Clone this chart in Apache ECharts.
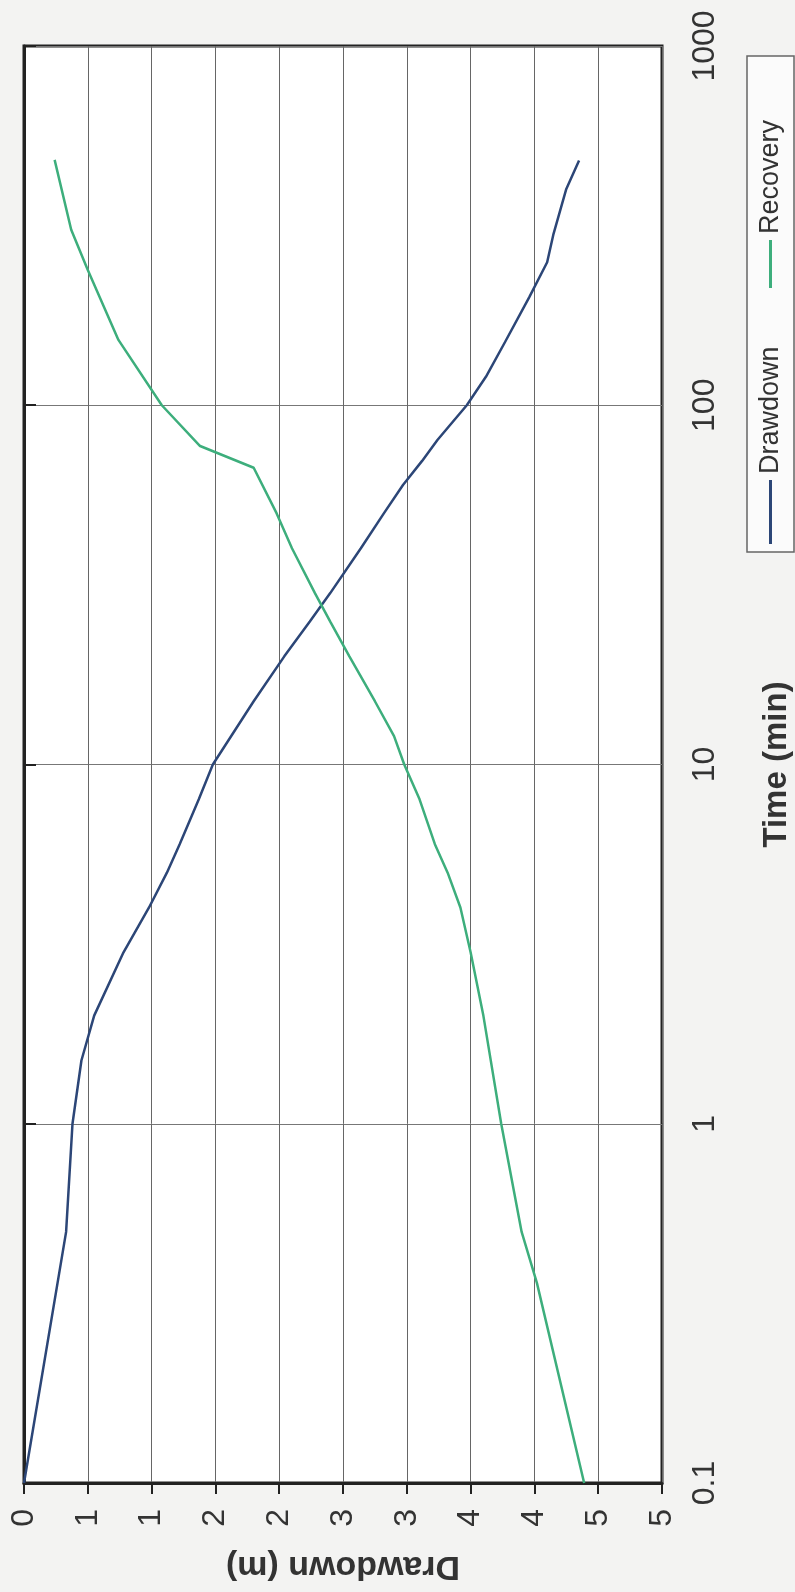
<!DOCTYPE html>
<html>
<head>
<meta charset="utf-8">
<script src="https://cdn.jsdelivr.net/npm/echarts@6/dist/echarts.min.js"></script>
<style>
  html, body { margin: 0; padding: 0; background: #f3f3f2; }
  #chart { width: 795px; height: 1592px; }
</style>
</head>
<body>
<div id="chart"></div>
<script>
// values: time in minutes, drawdown in metres
const seriesNames = ["Drawdown", "Recovery"];
const drawdownTime = [0.1, 0.5, 1, 1.5, 2, 3, 4, 5, 6, 7, 8, 10, 15, 20, 25, 30, 40, 50, 60, 70, 80, 100, 120, 150, 200, 250, 300, 400, 480];
const drawdownLevel = [0, 0.33, 0.38, 0.45, 0.55, 0.78, 0.98, 1.12, 1.22, 1.3, 1.37, 1.48, 1.8, 2.04, 2.24, 2.4, 2.64, 2.82, 2.97, 3.12, 3.24, 3.47, 3.62, 3.77, 3.96, 4.1, 4.15, 4.25, 4.35];
const recoveryTime = [0.1, 0.36, 0.5, 1, 2, 3, 4, 5, 6, 8, 10, 12, 15, 20, 25, 30, 40, 50, 67, 77, 100, 152, 238, 308, 482];
const recoveryLevel = [4.39, 4.02, 3.9, 3.74, 3.6, 3.5, 3.42, 3.32, 3.22, 3.1, 2.98, 2.9, 2.75, 2.55, 2.4, 2.28, 2.1, 1.98, 1.8, 1.38, 1.08, 0.74, 0.5, 0.37, 0.24];
const levelTickLabels = ["0", "1", "1", "2", "2", "3", "3", "4", "4", "5", "5"];
const timeTickLabels = ["0.1", "1", "10", "100", "1000"];
const colors = ["#2c4677", "#3dae7c"];

const font = "Liberation Sans, Arial, sans-serif";
const chart = echarts.init(document.getElementById("chart"));

const toPairs = (t, d) => t.map((v, i) => [d[i], v]);

// legend is drawn rotated like the rest of the scanned page
const legendBox = { x: 747, y: 552, len: 496, wide: 47 };
const legendItems = [
  { name: seriesNames[0], color: colors[0], lineFrom: 8, lineTo: 72, textAt: 78 },
  { name: seriesNames[1], color: colors[1], lineFrom: 264, lineTo: 312, textAt: 318 },
];
const legendChildren = [
  {
    type: "rect",
    shape: { x: 0, y: 0, width: legendBox.len, height: legendBox.wide },
    style: { fill: "#fbfbfb", stroke: "#666", lineWidth: 1.5 },
  },
];
legendItems.forEach(item => {
  legendChildren.push({
    type: "line",
    shape: { x1: item.lineFrom, y1: legendBox.wide / 2, x2: item.lineTo, y2: legendBox.wide / 2 },
    style: { stroke: item.color, lineWidth: 3 },
  });
  legendChildren.push({
    type: "text",
    x: item.textAt,
    y: legendBox.wide / 2,
    style: {
      text: item.name,
      fontFamily: font,
      fontSize: 27,
      fill: "#333",
      verticalAlign: "middle",
      align: "left",
    },
  });
});

let option = {
  backgroundColor: "#f3f3f2",
  animation: false,
  grid: {
    left: 24,
    right: 133,
    top: 46,
    bottom: 109,
    outerBoundsMode: "none",
    show: true,
    backgroundColor: "#ffffff",
    borderColor: "#222",
    borderWidth: 3,
  },
  xAxis: {
    type: "value",
    min: 0,
    max: 5,
    interval: 0.5,
    position: "bottom",
    name: "Drawdown (m)",
    nameLocation: "middle",
    nameRotate: 180,
    nameGap: 66,
    nameTextStyle: { fontFamily: font, fontWeight: "bold", fontSize: 34, color: "#333" },
    axisLine: { show: true, onZero: false, lineStyle: { color: "#222", width: 3 } },
    axisTick: { show: true, length: 11, lineStyle: { color: "#222", width: 2 } },
    axisLabel: {
      rotate: 90,
      margin: 26,
      fontFamily: font,
      fontSize: 32,
      color: "#333",
      formatter: v => levelTickLabels[Math.round(v / 0.5)],
    },
    splitLine: { show: true, lineStyle: { color: "#666", width: 1 } },
  },
  yAxis: {
    type: "log",
    logBase: 10,
    min: 0.1,
    max: 1000,
    position: "right",
    name: "Time (min)",
    nameLocation: "middle",
    nameRotate: 90,
    nameGap: 98,
    nameTextStyle: { fontFamily: font, fontWeight: "bold", fontSize: 33, color: "#333" },
    axisLine: { show: true, lineStyle: { color: "#222", width: 3 } },
    axisTick: { show: true, length: 12, lineStyle: { color: "#222", width: 2 } },
    axisLabel: {
      rotate: 90,
      margin: 27,
      fontFamily: font,
      fontSize: 32,
      color: "#333",
      formatter: v => timeTickLabels[Math.round(Math.log10(v)) + 1],
    },
    splitLine: { show: true, lineStyle: { color: "#777", width: 1 } },
  },
  series: [
    {
      name: seriesNames[0],
      type: "line",
      data: toPairs(drawdownTime, drawdownLevel),
      showSymbol: false,
      lineStyle: { color: colors[0], width: 2.5 },
      itemStyle: { color: colors[0] },
    },
    {
      name: seriesNames[1],
      type: "line",
      data: toPairs(recoveryTime, recoveryLevel),
      showSymbol: false,
      lineStyle: { color: colors[1], width: 2.5 },
      itemStyle: { color: colors[1] },
    },
  ],
  graphic: [
    {
      type: "group",
      x: legendBox.x,
      y: legendBox.y,
      rotation: Math.PI / 2,
      children: legendChildren,
    },
  ],
};
chart.setOption(option);
</script>
</body>
</html>
